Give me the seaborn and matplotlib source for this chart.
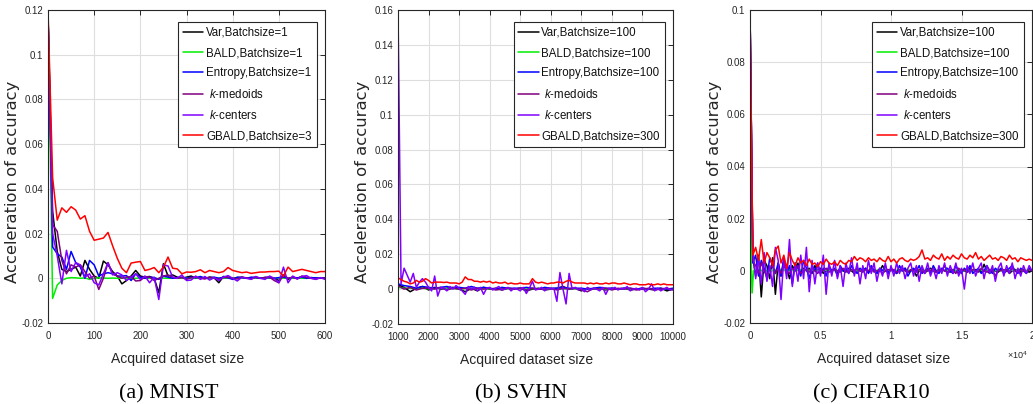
import matplotlib
matplotlib.use("Agg")
import numpy as np
import pandas as pd
import seaborn as sns
import matplotlib.pyplot as plt
from matplotlib.lines import Line2D

# ---------------------------------------------------------------------------
# Acceleration of accuracy (values in units of 1e-3)
# ---------------------------------------------------------------------------
ACC_UNIT = 1e-3

methods = ["Var", "BALD", "Entropy", "k-medoids", "k-centers", "GBALD"]

# --- MNIST -----------------------------------------------------------------
mnist_sizes = list(range(0, 601, 10))
mnist_var = [118, 30, 12, 4, 3, 4, 5, 1, 8, 4,
             1, 0, 7.7, 6, 3, 1, -2.5, -1, 1, 3.5,
             1, 0.5, 0.8, 0, -6.5, 6.5, 1, 1.5, 0.5, 0,
             0.5, 1, 0, 0.5, 0, 0.5, 0.2, -2, 0.8, 0.5,
             0, 0.3, 0.5, 0, 0.2, 0.5, 0, 0.3, 0.5, 0,
             -1, 1.5, -0.5, 0.5, 0, 0.8, 0, 0.3, 0, 0.2,
             0]
mnist_bald = [118, -9, -3, -1, 0, 0.3, 0.2, 0, 0.2, -0.5,
              0, 0.2, 0.1, 0, 0.1, 0, 0.1, 0, -0.1, 0,
              0.1, 0, 0.1, 0, -0.2, 0.1, 0, 0.1, 0, 0,
              0.1, 0, 0, 0.1, 0, 0, 0.1, 0, 0, 0.1,
              0, 0, 0.1, 0, 0, 0.1, 0, 0, 0.1, 0,
              0, 0.1, 0, 0, 0.1, 0, 0, 0.1, 0, 0,
              0.1]
mnist_entropy = [118, 14, 11, 9.5, 4, 12, 7, 5, 0, 8,
                 6, 1, 2, 2.5, 2, 1, 1, 1.2, -1, 2,
                 0.5, 0, 0.5, 0.3, -0.5, 1, 0.5, 0, 0.3, 0.5,
                 0, 0.5, 0.2, 0.8, 0, 0.3, 0.5, 0, 0.5, 0.2,
                 -0.5, 0.5, 0.3, 0, 0.5, 0.3, 0, 0.4, 0.2, 0,
                 0.3, 0.5, 0, 0.4, 0.2, 0.5, 0, 0.3, 0.2, 0,
                 0.2]
mnist_medoids = [118, 24, 21, 8, 2, 6, 5, 6, 3, 0,
                 1, -5, 0, 7, 2, 1, 0, 0.5, 0.8, -1.2,
                 -1, 0.8, 0.5, -1, 0, 1, 1.5, 0.5, 0, 0.3,
                 -0.5, 0.3, 0.5, 0, -0.3, 0.5, 0, -0.5, 0.3, 0.5,
                 0, -0.3, 0.5, 0.2, -0.3, 0.5, 0, 0.3, 0.5, -1,
                 -2, 1.5, 0, 0.5, -0.3, 1, 0.5, 0, -0.3, 0.2,
                 0]
mnist_centers = [118, 20, 10, -2.5, 12.5, 3, 7, 6, 0.5, 2,
                 -2, -3, 2, 7, 1.5, 2.5, 1.5, -1, 0.5, 2,
                 -0.5, 1, -2, 0.5, -9.5, 6, 5.5, 0.5, 0, 1.5,
                 -1, -0.8, 1, -0.5, 0.8, -0.8, 0.3, -1, 0.5, 1.2,
                 0, -1.2, 0.5, 0, -0.5, 0.8, 0, -0.5, 1, 0,
                 -2, 5, -2, 1, -0.3, 0.8, 1.2, 0, -0.5, 0.3,
                 -0.5]
mnist_gbald = [120, 45, 26, 31.5, 29.5, 32, 30.5, 26.5, 28, 21,
               17, 17.5, 18, 20.5, 14.5, 9, 4.5, 2.5, 6.8, 7.2,
               7.5, 3.5, 4, 4.8, 2.5, 5, 9.5, 4.5, 4.2, 2,
               2.8, 2.7, 3, 3.8, 2.5, 3.5, 3, 2.5, 3, 4.8,
               3.5, 3, 2.5, 2.8, 2.2, 2.5, 2.8, 2.8, 3, 3,
               3.2, 1, 5, 3, 3.5, 4, 3.5, 3, 2.5, 3,
               3]

# --- SVHN ------------------------------------------------------------------
svhn_sizes_fine = list(range(1000, 10001, 100))
svhn_sizes_coarse = list(range(1000, 10001, 200))
svhn_var = [2.5, 1, -1.5, 0.5, 1.5, -0.5, 1, 0, 0.5, 1,
            0, -1.5, 0.5, -1, 1, 0, 0.5, -0.5, 0.5, 0,
            0.5, -1, 0, 0.5, -0.5, 0, 0.5, 1.5, 0, 0.5,
            -1, 0.5, 0, 0.5, -0.5, 0.5, 0, 0.5, -0.5, 0,
            0.5, 0, -0.5, 0.5, -1, 0]
svhn_bald = [1, 0.5, 0.5, 0.3, 0.5, 0.2, 0.3, 0.5, 0.2, 0.3,
             0.2, 0.3, 0.1, 0.2, 0.3, 0.2, 0.1, 0.3, 0.2, 0.1,
             0.2, 0.1, 0.3, 0.2, 0.1, 0.2, 0.3, 0.1, 0.2, 0.1,
             0.2, 0.1, 0.2, 0.3, 0.1, 0.2, 0.1, 0.2, 0.1, 0.2,
             0.1, 0.2, 0.1, 0.2, 0.1, 0.1]
svhn_entropy = [3, 2, 1.5, 0.5, 1.5, 1, 0.5, 1, 1.5, 0.5,
                1, 0.5, 1.5, 0.5, 1, 0.5, 0, 1, 0.5, 0.5,
                0.5, 1, 0.5, 0, 1, 0.5, 0.5, 1, 0.5, 0.5,
                0.5, 0, 0.5, 1, 0.5, 0.5, 0, 0.5, 0.5, 0,
                0.5, 0, 0.5, 0.5, 0, 0.5]
svhn_medoids = [2, 0, 1, -0.5, 0.5, 0.5, 0, 1, -0.5, 0.5,
                0, 0.5, -0.5, 0.5, 0, 0.5, -0.5, 0, 0.5, 0,
                0.5, -0.5, 0.5, 0, 0, 0.5, -0.5, 0.5, 0, 0.5,
                -0.5, -1.5, 0.5, 0, 0.5, -0.5, 0.5, 0, 0.5, -0.5,
                0, 0.5, -0.5, 0, 0.5, -0.5]
svhn_centers = [160, 3, 12, 8, 4, 9, 1, 4, 6, 4,
                1, -1, 7.5, -4, 1, 0.5, -1, 1.5, 0, 2,
                0.5, -1, -3, 1.5, 0, 1, -1, 1, -3, 0.5,
                1, -0.5, 0.5, 1.5, -0.5, 0, 1, -1, 0.5, 0,
                -1, 1, -2.5, 0.5, 4.5, -0.5, 0, 1, -1, 0.5,
                0, 0.5, -7, 9.5, 0, -8.5, 9, 0, 1, -0.5,
                0.5, -1.5, 1, -0.5, 0.5, 0, -1, 1, -3, 0.5,
                0, 1, -0.5, 0.5, 0, 1.5, -1, 0, 0.5, -0.5,
                1, -1.5, 0, 3, -1, 0.5, -1, 0, 1, -0.5,
                0]
svhn_gbald = [6.5, 5.5, 4.5, 4, 3, 3.5, 5, 4, 4.5, 6,
              5, 3.5, 4, 4, 4, 3.8, 4, 3.5, 3.5, 3.5,
              3, 4, 7, 5.5, 5.5, 4.5, 4.5, 4, 4.5, 4,
              4.5, 3.5, 4, 3.5, 3.5, 4, 3, 3.5, 3, 3,
              3.5, 3, 3, 3, 6, 4, 3.5, 4, 3.5, 3,
              3.5, 3.5, 4, 4, 3.5, 4.5, 5, 4, 3.5, 3.5,
              3.5, 3.5, 3, 3.5, 3, 3.5, 3, 3, 3.5, 3,
              3.5, 3.5, 3, 3, 3.5, 3, 2.5, 3, 3, 2.5,
              2.5, 2.5, 3, 2.5, 2.5, 3, 2.5, 3, 2.5, 2.5,
              2.5]

# --- CIFAR10 ---------------------------------------------------------------
cifar_sizes = list(range(0, 20001, 200))
cifar_bald_sizes = [0, 100, 150, 250, 400, 1000, 2000, 5000, 10000, 15000, 20000]
cifar_bald = [100, 0, -8.5, 0, 0.5, 0, 0.3, 0.2, 0.2, 0.1, 0.2]
cifar_var = [100, 5, -2, 6, -10, 4, 2, -3, 5, -9,
             3, -2, 4, 1, -3, 2, 0, 3, -1, 1,
             0, 1, -1, 2, 0, 1, -1, 0, 1, 0,
             0.5, -1, 1, 0, -0.5, 1, 0, -1, 0.5, 0,
             0, 1, -0.5, 0, 0.5, -1, 0, 2, 0, -0.5,
             0.5, 0, -1, 0.5, 0, 1, -0.5, 0, 0.5, -2,
             0, 0.5, -0.5, 0, 1, 0, -0.5, 0.5, 0, 2,
             0, -0.5, 0.5, 0, -1, 0.5, 0, -0.5, 1, 0,
             0.5, 0, -0.5, 2.5, 0, -1, 0.5, 0, -0.5, 0.5,
             0, 0.5, -1, 0, 0.5, 0, -0.5, 0.5, 0, -0.5,
             0]
cifar_entropy = [100, 3, 6, -2, 4, 1, -3, 5, 2, -1,
                 3, -2, 5, -1, 2, -5, 3, 1, -2, 4,
                 1, -3, 2, 0, 3, -1, 1, -2, 2, 0,
                 1, -2, 2, 0, 1, -1, 2, 0, -1, 1,
                 0, 1, -1, 2, 0, -1, 1, 0, 2, -1,
                 1, 0, -1, 2, 0, 1, -2, 0, 1, 0,
                 2, -1, 0, 1, -1, 2, 0, -1, 1, 0,
                 1, 0, -1, 2, 0, -1, 1, 0, 2, -1,
                 0, 1, -1, 0, 2, 0, -1, 1, 0, 1,
                 -1, 0, 1, 2, 0, -1, 1, 0, -1, 1,
                 0]
cifar_medoids = [100, 4, 2, -1, 3, 0, -2, 1, 2, -1,
                 1, -1, 2, 0, -1, 1, 0, 2, -1, 0,
                 0.5, -0.5, 1, 0, -1, 0.5, 0, 1, -0.5, 0,
                 0.5, 0, -0.5, 1, 0, -0.5, 0.5, 0, 1, 0,
                 -0.5, 0.5, 0, 1, -0.5, 0, 0.5, -1, 0, 0.5,
                 0, 0.5, -0.5, 0, 1, 0, -0.5, 0.5, 0, -0.5,
                 0.5, 0, -1, 0.5, 0, 1, -0.5, 0, 0.5, 0,
                 -0.5, 0.5, 0, -1, 1, 0, 0.5, -0.5, 0, 0.5,
                 0, -0.5, 1, 0, -0.5, 0.5, 0, -2, 0.5, 0,
                 0.5, 0, -0.5, 1, 0, -0.5, 0.5, 0, -0.5, 0.5,
                 0]
cifar_centers = [100, 8, -3, 5, -5, 7, -4, 2, -6, 9,
                 4, -11, 5, -3, 12, -6, 3, -4, 6, -3,
                 9, -8, 4, -5, 3, -2, 6, -9, 3, -2,
                 4, -3, 2, -6, 3, -1, 5, -2, 3, -5,
                 2, -3, 4, -1, 3, -4, 1, -2, 3, -3,
                 2, -2, 3, -1, 2, -3, 1, 3, -2, 2,
                 -4, 2, -1, 3, -2, 1, -3, 2, -1, 3,
                 -2, 2, -1, 3, -2, 1, -7, 2, -1, 3,
                 -2, 1, 3, -3, 2, -1, 2, -4, 1, 3,
                 -2, 2, -1, 3, -3, 1, -2, 2, -1, 2,
                 0]
cifar_gbald = [100, 6, 9, 4, 12, 3, 7, 5, 2, 8,
               9.5, 3, 6, 1, 7, 4, 2, 5, 3, 4,
               2, 4.5, 2.5, 3, 1.5, 3.5, 2.5, 4.5, 3, 2.5,
               3.5, 2, 4, 3, 2.5, 4, 3.5, 5.5, 4, 5,
               4.5, 3.5, 5, 4, 4.5, 3.5, 5, 4, 3.5, 5.5,
               3.5, 4.5, 3, 4.5, 5, 4, 3.5, 4.5, 4, 4.5,
               5.5, 8, 4.5, 5, 4, 6, 5, 4.5, 6.5, 4,
               5.5, 4.5, 6, 5, 4.5, 6.5, 5, 4.5, 6, 5,
               7, 4.5, 5.5, 4, 5, 6, 4.5, 5, 4, 5.5,
               5, 4, 6, 4.5, 5, 3.5, 5, 4.5, 4, 4.5,
               4]

# Legend texts per panel
mnist_labels = ["Var,Batchsize=1", "BALD,Batchsize=1", "Entropy,Batchsize=1",
                " $k$-medoids", " $k$-centers", "GBALD,Batchsize=3"]
batch_labels = ["Var,Batchsize=100", "BALD,Batchsize=100", "Entropy,Batchsize=100",
                " $k$-medoids", " $k$-centers", "GBALD,Batchsize=300"]

# Axis ticks
mnist_xticks = [0, 100, 200, 300, 400, 500, 600]
svhn_xticks = list(range(1000, 10001, 1000))
cifar_xticks = [0, 5000, 10000, 15000, 20000]
cifar_xticklabels = ["0", "0.5", "1", "1.5", "2"]
mnist_yticks = [-0.02, 0, 0.02, 0.04, 0.06, 0.08, 0.1, 0.12]
svhn_yticks = [-0.02, 0, 0.02, 0.04, 0.06, 0.08, 0.1, 0.12, 0.14, 0.16]
cifar_yticks = [-0.02, 0, 0.02, 0.04, 0.06, 0.08, 0.1]

captions = ["(a) MNIST", "(b) SVHN", "(c) CIFAR10"]

# ---------------------------------------------------------------------------
# Styling
# ---------------------------------------------------------------------------
sns.set_style("white")
SANS = "Liberation Sans"
plt.rcParams["font.family"] = [SANS, "DejaVu Sans"]
plt.rcParams["axes.unicode_minus"] = False
plt.rcParams["mathtext.fontset"] = "custom"
plt.rcParams["mathtext.rm"] = SANS
plt.rcParams["mathtext.it"] = SANS + ":italic"

INK = "#262626"
colors = ["#000000", "#00ee00", "#0000ff", "#800080", "#8000ff", "#ff0000"]
palette = dict(zip(methods, colors))


def long_frame(series):
    parts = []
    for method, (sizes, vals) in series.items():
        parts.append(pd.DataFrame({"size": sizes,
                                   "acc": np.asarray(vals, dtype=float) * ACC_UNIT,
                                   "method": method}))
    return pd.concat(parts, ignore_index=True)


def fmt(v):
    s = f"{v:g}"
    return "0" if s in ("-0", "0") else s


def draw_panel(ax, df, labels, xlim, xticks, xticklabels, ylim, yticks,
               xlabel_x, ylabel_x):
    sns.lineplot(data=df, x="size", y="acc", hue="method", hue_order=methods,
                 palette=palette, estimator=None, legend=False, lw=1.1, ax=ax)
    ax.set_xlim(*xlim)
    ax.set_ylim(*ylim)
    ax.set_xticks(xticks)
    ax.set_xticklabels(xticklabels)
    ax.set_yticks(yticks)
    ax.set_yticklabels([fmt(v) for v in yticks])
    ax.grid(True, color="#dedede", lw=0.8)
    ax.set_axisbelow(True)
    for sp in ax.spines.values():
        sp.set_color(INK)
        sp.set_linewidth(0.8)
    ax.tick_params(axis="both", direction="in", top=True, right=True,
                   length=3.5, width=0.7, color=INK, labelcolor=INK,
                   labelsize=7)
    ax.tick_params(axis="x", pad=6)
    ax.tick_params(axis="y", pad=3.5)
    ax.set_xlabel("Acquired dataset size", fontsize=10, color=INK, va="center")
    ax.xaxis.set_label_coords(xlabel_x, -0.115)
    ax.set_ylabel("Acceleration of accuracy", fontsize=11.8, color=INK,
                  family="DejaVu Sans", va="center")
    ax.yaxis.set_label_coords(ylabel_x, 0.452)

    handles = [Line2D([], [], color=c, lw=1.1) for c in colors]
    leg = ax.legend(handles, labels, loc="upper right", bbox_to_anchor=(0.97, 0.962),
                    borderaxespad=0, frameon=True, fancybox=False, framealpha=1,
                    edgecolor=INK, fontsize=8.3, handlelength=1.75,
                    handletextpad=0.25, labelspacing=0.72, borderpad=0.42)
    leg.get_frame().set_linewidth(0.8)
    for t in leg.get_texts():
        t.set_color("#111111")


fig = plt.figure(figsize=(10.33, 4.04), dpi=100)
W, H = 1033.0, 404.0


def axes_box(left, right, top, bottom):
    return [left / W, 1 - bottom / H, (right - left) / W, (bottom - top) / H]


ax1 = fig.add_axes(axes_box(48, 325, 10, 323))
ax2 = fig.add_axes(axes_box(398, 673, 10, 324))
ax3 = fig.add_axes(axes_box(750, 1032, 10, 323))

mnist_df = long_frame({
    "Var": (mnist_sizes, mnist_var),
    "BALD": (mnist_sizes, mnist_bald),
    "Entropy": (mnist_sizes, mnist_entropy),
    "k-medoids": (mnist_sizes, mnist_medoids),
    "k-centers": (mnist_sizes, mnist_centers),
    "GBALD": (mnist_sizes, mnist_gbald),
})
svhn_df = long_frame({
    "Var": (svhn_sizes_coarse, svhn_var),
    "BALD": (svhn_sizes_coarse, svhn_bald),
    "Entropy": (svhn_sizes_coarse, svhn_entropy),
    "k-medoids": (svhn_sizes_coarse, svhn_medoids),
    "k-centers": (svhn_sizes_fine, svhn_centers),
    "GBALD": (svhn_sizes_fine, svhn_gbald),
})
cifar_df = long_frame({
    "Var": (cifar_sizes, cifar_var),
    "BALD": (cifar_bald_sizes, cifar_bald),
    "Entropy": (cifar_sizes, cifar_entropy),
    "k-medoids": (cifar_sizes, cifar_medoids),
    "k-centers": (cifar_sizes, cifar_centers),
    "GBALD": (cifar_sizes, cifar_gbald),
})

draw_panel(ax1, mnist_df, mnist_labels, (0, 600), mnist_xticks,
           [str(v) for v in mnist_xticks], (-0.02, 0.12), mnist_yticks,
           0.469, -0.128)
draw_panel(ax2, svhn_df, batch_labels, (1000, 10000), svhn_xticks,
           [str(v) for v in svhn_xticks], (-0.02, 0.16), svhn_yticks,
           0.469, -0.13)
draw_panel(ax3, cifar_df, batch_labels, (0, 20000), cifar_xticks,
           cifar_xticklabels, (-0.02, 0.1), cifar_yticks,
           0.472, -0.126)

# Exponent marker for the CIFAR10 size axis
ax3.text(0.95, -0.102, r"$\times10^{4}$", transform=ax3.transAxes,
         fontsize=6.5, color=INK, ha="center", va="center")

# Subfigure captions
for xc, cap in zip([169, 521, 871], captions):
    fig.text(xc / W, 1 - 394 / H, cap, ha="center", va="center",
             fontsize=16, family="Liberation Serif", color="#000000")

fig.savefig("out.png", dpi=100)
